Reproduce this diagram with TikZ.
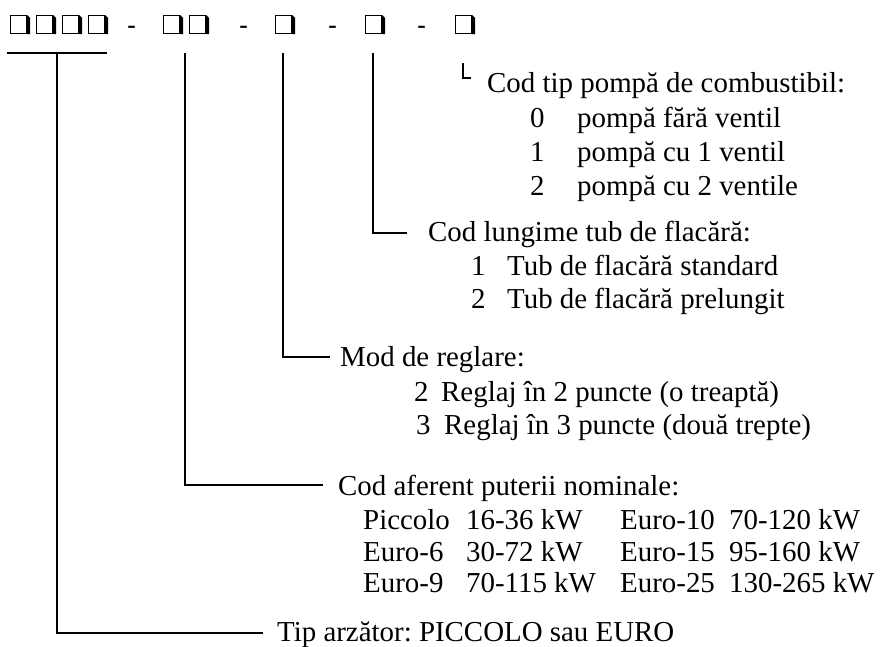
\documentclass[tikz,border=0pt]{standalone}
\usepackage{fontspec}
\setmainfont{Liberation Serif}
\newfontfamily\dashfont{Liberation Sans}
\begin{document}
\frenchspacing
\begin{tikzpicture}[x=1pt,y=-1pt,
  txt/.style={anchor=base west, inner sep=0pt, font=\fontsize{28.9}{34}\selectfont},
  cell/.style={draw, line width=1.2pt, minimum width=16pt, minimum height=18pt, inner sep=0pt},
  sepdash/.style={anchor=base, inner sep=0pt, font=\dashfont\fontsize{27}{30}\selectfont},
  conn/.style={line width=1.6pt}]
\useasboundingbox (0,0) rectangle (880,646);

% code boxes
\node[cell] (b1) at (18.5,24.5) {};
\node[cell] (b2) at (44.5,24.5) {};
\node[cell] (b3) at (70.5,24.5) {};
\node[cell] (b4) at (96.5,24.5) {};
\node[cell] (b5) at (171.5,24.5) {};
\node[cell] (b6) at (197.5,24.5) {};
\node[cell] (b7) at (283.5,24.5) {};
\node[cell] (b8) at (373.5,24.5) {};
\node[cell] (b9) at (463.5,24.5) {};
\foreach \i in {1,...,9}
  \fill (b\i.north east) -- ++(3,3) -- ([xshift=3pt]b\i.south east) -- (b\i.south east) -- cycle;

\node[sepdash] (d1) at (131.5,34) {-};
\node[sepdash] (d2) at (243.5,34) {-};
\node[sepdash] (d3) at (332.5,34) {-};
\node[sepdash] (d4) at (421.5,34) {-};

% texts
\node[txt] (t5) at (487,92) {Cod tip pompă de combustibil:};
\node[txt] (t5a) at (530,127) {0};
\node[txt] (t5at) at (577,127) {pompă fără ventil};
\node[txt] (t5b) at (530,161) {1};
\node[txt] (t5bt) at (577,161) {pompă cu 1 ventil};
\node[txt] (t5c) at (530,195) {2};
\node[txt] (t5ct) at (577,195) {pompă cu 2 ventile};

\node[txt] (t4) at (428,241) {Cod lungime tub de flacără:};
\node[txt] (t4a) at (471,275) {1};
\node[txt] (t4at) at (507,275) {Tub de flacără standard};
\node[txt] (t4b) at (471,308) {2};
\node[txt] (t4bt) at (507,308) {Tub de flacără prelungit};

\node[txt] (t3) at (340,366) {Mod de reglare:};
\node[txt] (t3a) at (414,401) {2};
\node[txt] (t3at) at (441,401) {Reglaj în 2 puncte (o treaptă)};
\node[txt] (t3b) at (416,434) {3};
\node[txt] (t3bt) at (444,434) {Reglaj în 3 puncte (două trepte)};

\node[txt] (t2) at (338,495) {Cod aferent puterii nominale:};
\node[txt] (r1a) at (363,529) {Piccolo};
\node[txt] (r1b) at (466,529) {16-36 kW};
\node[txt] (r1c) at (620,529) {Euro-10};
\node[txt] (r1d) at (729,529) {70-120 kW};
\node[txt] (r2a) at (363,561) {Euro-6};
\node[txt] (r2b) at (466,561) {30-72 kW};
\node[txt] (r2c) at (620,561) {Euro-15};
\node[txt] (r2d) at (729,561) {95-160 kW};
\node[txt] (r3a) at (363,592) {Euro-9};
\node[txt] (r3b) at (466,592) {70-115 kW};
\node[txt] (r3c) at (620,592) {Euro-25};
\node[txt] (r3d) at (729,592) {130-265 kW};

\node[txt] (t1) at (277,641) {Tip arzător: PICCOLO sau EURO};

% connectors
\coordinate (u1) at (7,53);
\coordinate (u2) at (107,53);
\coordinate (g1) at (57,53);
\coordinate (g2) at (185,53);
\coordinate (g3) at (283,53);
\coordinate (g4) at (373,53);
\coordinate (g5) at (463,63);
\coordinate (e1) at (263,633);
\coordinate (e2) at (323,485);
\coordinate (e3) at (330,357);
\coordinate (e4) at (407,233);
\coordinate (e5) at (471,78);

\draw[conn] (u1) -- (u2);
\draw[conn] (g1) |- (e1);
\draw[conn] (g2) |- (e2);
\draw[conn] (g3) |- (e3);
\draw[conn] (g4) |- (e4);
\draw[conn,line width=1.4pt] (g5) |- (e5);
\end{tikzpicture}
\end{document}
